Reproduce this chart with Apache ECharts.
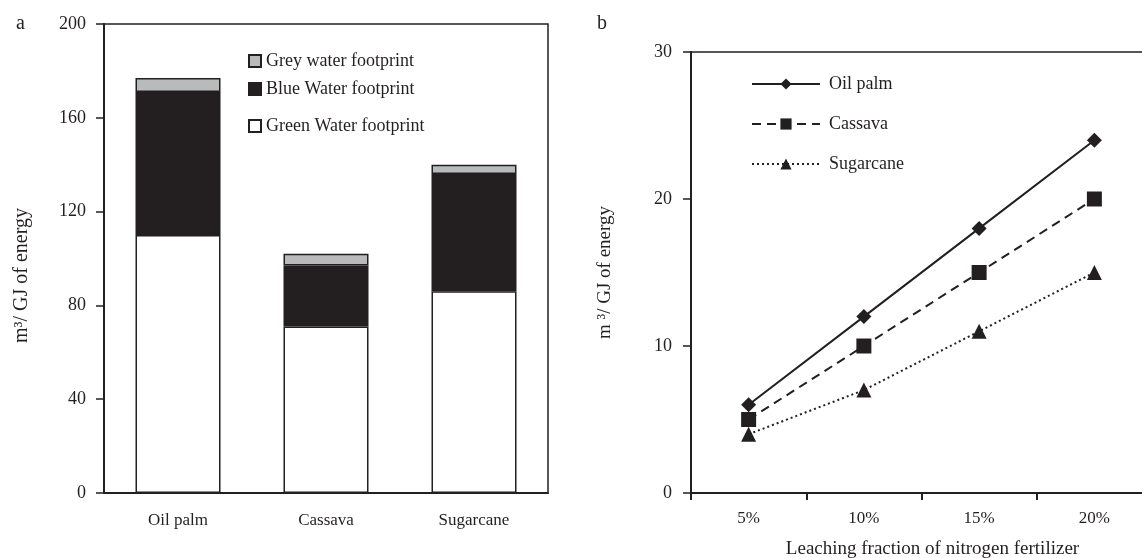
<!DOCTYPE html>
<html>
<head>
<meta charset="utf-8">
<script src="https://cdn.jsdelivr.net/npm/echarts@6/dist/echarts.min.js"></script>
<style>html,body{margin:0;padding:0;background:#fff}#c{width:1142px;height:558px}</style>
</head>
<body>
<div id="c"></div>
<script>
// Panel a
const crops = ['Oil palm', 'Cassava', 'Sugarcane'];
const greenWF = [110, 71, 86];
const blueWF = [61, 26, 50];
const greyWF = [6, 5, 4];
const aTicks = [0, 40, 80, 120, 160, 200];
// Panel b
const leaching = ['5%', '10%', '15%', '20%'];
const oilPalm = [6, 12, 18, 24];
const cassava = [5, 10, 15, 20];
const sugarcane = [4, 7, 11, 15];

const ink = '#231f20';
const font = 'Liberation Serif';
const chart = echarts.init(document.getElementById('c'), null, {renderer: 'canvas'});

const axisCommon = {
  axisLine: {show: true, lineStyle: {color: ink, width: 2}},
  splitLine: {show: false}
};
const legText = {fontFamily: font, fontSize: 18, color: ink};

chart.setOption({
  animation: false,
  backgroundColor: '#fff',
  textStyle: {fontFamily: font, color: ink},
  graphic: [
    {type: 'text', x: 16, y: 34, style: {text: 'a', font: '20px "Liberation Serif"', fill: ink, verticalAlign: 'bottom'}},
    {type: 'text', x: 597, y: 34, style: {text: 'b', font: '20px "Liberation Serif"', fill: ink, verticalAlign: 'bottom'}}
  ],
  grid: [
    {left: 104, top: 24, width: 444, height: 469, show: true, borderColor: ink, borderWidth: 1.5,
      backgroundColor: 'transparent', containLabel: false, outerBoundsMode: 'none'},
    {left: 691, top: 52, width: 461, height: 441, show: true, borderColor: ink, borderWidth: 1.5,
      backgroundColor: 'transparent', containLabel: false, outerBoundsMode: 'none'}
  ],
  legend: [
    {left: 248, top: 52, padding: 0, data: ['Grey water footprint'], icon: 'rect', itemWidth: 12, itemHeight: 12, textStyle: legText},
    {left: 248, top: 80, padding: 0, data: ['Blue Water footprint'], icon: 'rect', itemWidth: 12, itemHeight: 12, textStyle: legText},
    {left: 248, top: 117, padding: 0, data: ['Green Water footprint'], icon: 'rect', itemWidth: 12, itemHeight: 12, textStyle: legText},
    {orient: 'vertical', left: 751, top: 75, padding: 0, itemGap: 22, itemWidth: 68, itemHeight: 14,
      data: ['Oil palm', 'Cassava', 'Sugarcane'], textStyle: Object.assign({}, legText, {padding: [0, 0, 0, 4]})}
  ],
  xAxis: [
    Object.assign({}, axisCommon, {
      type: 'category', gridIndex: 0, data: crops,
      axisTick: {show: false},
      axisLabel: {color: ink, fontFamily: font, fontSize: 17, margin: 19}
    }),
    Object.assign({}, axisCommon, {
      type: 'category', gridIndex: 1, data: leaching,
      axisTick: {show: true, inside: false, length: 7, lineStyle: {color: ink, width: 2}},
      axisLabel: {color: ink, fontFamily: font, fontSize: 17, margin: 17},
      name: 'Leaching fraction of nitrogen fertilizer', nameLocation: 'middle', nameGap: 47,
      nameTextStyle: {fontFamily: font, fontSize: 19, color: ink, padding: [0, 0, 0, 22]}
    })
  ],
  yAxis: [
    Object.assign({}, axisCommon, {
      type: 'value', gridIndex: 0, min: 0, max: 200, interval: 40,
      axisTick: {show: true, length: 8, lineStyle: {color: ink, width: 1.5}},
      axisLabel: {color: ink, fontFamily: font, fontSize: 18, margin: 18},
      name: 'm³/ GJ of energy', nameLocation: 'middle', nameGap: 72, nameRotate: 90,
      nameTextStyle: {fontFamily: font, fontSize: 20, color: ink, padding: [0, 34, 0, 0]}
    }),
    Object.assign({}, axisCommon, {
      type: 'value', gridIndex: 1, min: 0, max: 30, interval: 10,
      axisTick: {show: true, length: 8, lineStyle: {color: ink, width: 1.5}},
      axisLabel: {color: ink, fontFamily: font, fontSize: 18, margin: 19},
      name: 'm ³/ GJ of energy', nameLocation: 'middle', nameGap: 76, nameRotate: 90,
      nameTextStyle: {fontFamily: font, fontSize: 19, color: ink}
    })
  ],
  series: [
    {name: 'Green Water footprint', type: 'bar', stack: 'wf', xAxisIndex: 0, yAxisIndex: 0, data: greenWF, barWidth: 85,
      itemStyle: {color: '#ffffff', borderColor: ink, borderWidth: 1.5}},
    {name: 'Blue Water footprint', type: 'bar', stack: 'wf', xAxisIndex: 0, yAxisIndex: 0, data: blueWF, barWidth: 85,
      itemStyle: {color: ink, borderColor: ink, borderWidth: 1.5}},
    {name: 'Grey water footprint', type: 'bar', stack: 'wf', xAxisIndex: 0, yAxisIndex: 0, data: greyWF, barWidth: 85,
      itemStyle: {color: '#b9babc', borderColor: ink, borderWidth: 1.5}},
    {name: 'Oil palm', type: 'line', xAxisIndex: 1, yAxisIndex: 1, data: oilPalm,
      symbol: 'diamond', symbolSize: 15,
      lineStyle: {color: ink, width: 2, type: 'solid'}, itemStyle: {color: ink}},
    {name: 'Cassava', type: 'line', xAxisIndex: 1, yAxisIndex: 1, data: cassava,
      symbol: 'rect', symbolSize: 15,
      lineStyle: {color: ink, width: 2, type: [9, 6]}, itemStyle: {color: ink}},
    {name: 'Sugarcane', type: 'line', xAxisIndex: 1, yAxisIndex: 1, data: sugarcane,
      symbol: 'triangle', symbolSize: 15,
      lineStyle: {color: ink, width: 2, type: [2, 3]}, itemStyle: {color: ink}}
  ]
});
</script>
</body>
</html>
